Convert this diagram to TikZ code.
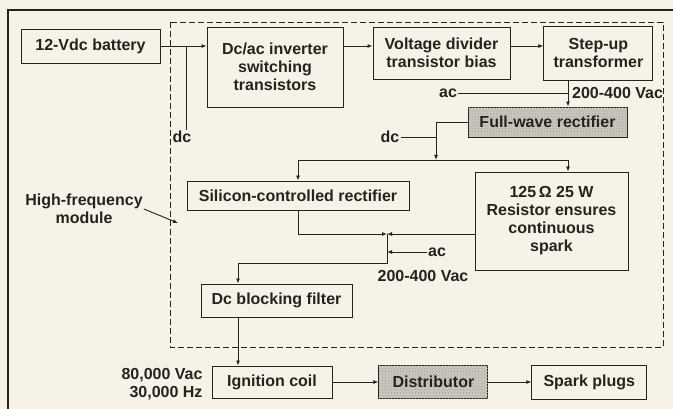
\documentclass[tikz,border=0pt]{standalone}
\usepackage{fontspec}
\setmainfont{Liberation Sans}
\usepackage{xcolor}
\usepackage{tikz}
\usetikzlibrary{patterns,positioning,arrows.meta,calc}
\definecolor{paper}{RGB}{247,242,231}
\definecolor{ink}{RGB}{38,34,30}
\definecolor{stipple}{RGB}{205,200,190}

\begin{document}
\begin{tikzpicture}[x=1pt,y=-1pt,node distance=40pt,
    every node/.style={font=\fontsize{16}{18}\selectfont\bfseries,text=ink},
    blockbox/.style={draw=ink,line width=0.9pt,inner sep=2pt,align=center},
    stipbox/.style={blockbox,fill=stipple,postaction={pattern=crosshatch dots,pattern color=ink!45}},
    wire/.style={draw=ink,line width=0.9pt},
    flow/.style={wire,-{Latex[length=5pt,width=4pt]}}]
    \fill[paper] (0,0) rectangle (673,409);
    \useasboundingbox (0,0) rectangle (673,409);
    % frames
    \draw[ink,line width=2pt] (8,409) -- (8,10) -- (673,10);
    \draw[ink,line width=0.7pt,dash pattern=on 6pt off 3pt] (170,22) rectangle (663,347);
    % blocks
    \node[blockbox,minimum width=139pt,minimum height=34pt] (battery) at (90.5,46) {12-Vdc battery};
    \node[blockbox,minimum width=136pt,minimum height=80pt] (inverter) at (275,67) {Dc/ac inverter\\switching\\transistors};
    \node[blockbox,minimum width=137pt,minimum height=52pt] (vdiv) at (441.5,53) {Voltage divider\\transistor bias};
    \node[blockbox,minimum width=109pt,minimum height=54pt,right=33pt of vdiv] (stepup) {Step-up\\transformer};
    \node[stipbox,minimum width=159pt,minimum height=30pt] (fullwave) at (547.5,122) {Full-wave rectifier};
    \node[blockbox,minimum width=222pt,minimum height=29pt] (scr) at (298,195.5) {Silicon-controlled rectifier};
    \node[blockbox,minimum width=153pt,minimum height=98pt] (resistor) at (551.5,221) {125\,Ω 25 W\\Resistor ensures\\continuous\\spark};
    \node[blockbox,minimum width=151pt,minimum height=33pt] (dcblock) at (276.5,300.5) {Dc blocking filter};
    \node[blockbox,minimum width=120pt,minimum height=32pt] (ignition) at (272,382) {Ignition coil};
    \node[stipbox,minimum width=109pt,minimum height=33pt,right=46pt of ignition] (distributor) {Distributor};
    \node[blockbox,minimum width=115pt,minimum height=34pt,right=43pt of distributor] (sparkplugs) {Spark plugs};
    % labels
    \node[inner sep=1pt] (dclabA) at (182,137) {dc};
    \node[inner sep=1pt] (aclabA) at (448,93) {ac};
    \node[inner sep=1pt,anchor=west] (vaclabA) at (571,93) {200-400 Vac};
    \node[inner sep=1pt] (dclabB) at (390,137) {dc};
    \node[inner sep=1pt] (aclabB) at (437,252) {ac};
    \node[inner sep=1pt] (vaclabB) at (423,276) {200-400 Vac};
    \node[inner sep=1pt,align=center] (hfmod) at (84,209) {High-frequency\\module};
    \node[inner sep=1pt,align=right] (hvlab) at (162,384) {80,000 Vac\\30,000 Hz};
    % junctions
    \coordinate (dcjoin) at (186,46);
    \coordinate (acjoin) at (568,93);
    \coordinate (busjoin) at (436,160);
    \coordinate (outjoin) at (387,234);
    \coordinate (acjoinB) at (387,252);
    \coordinate (filtin) at (238,263);
    \coordinate (hfarrow) at (178,223);
    % connectors
    \draw[flow] (battery.east) -- (inverter.west |- battery.east);
    \draw[wire] (dcjoin) -- (dcjoin |- dclabA.north);
    \draw[flow] (inverter.east |- battery.east) -- (vdiv.west |- battery.east);
    \draw[flow] (vdiv.east |- battery.east) -- (stepup.west |- battery.east);
    \draw[flow] (stepup.south -| acjoin) -- (fullwave.north -| acjoin);
    \draw[wire] (aclabA.east) -- (acjoin);
    \draw[flow] (fullwave.west) -| (busjoin);
    \draw[wire] (dclabB.east) -- (dclabB.east -| busjoin);
    \draw[flow] (busjoin) -| (scr.north);
    \draw[flow] (busjoin) -| (resistor.north -| acjoin);
    \draw[flow] (scr.south) |- (outjoin);
    \draw[flow] (resistor.west |- outjoin) -- (outjoin);
    \draw[flow] (aclabB.west) -- (acjoinB);
    \draw[flow] (outjoin) |- (filtin) -- (filtin |- dcblock.north);
    \draw[flow] (filtin |- dcblock.south) -- (filtin |- ignition.north);
    \draw[flow] (ignition) -- (distributor);
    \draw[flow] (distributor) -- (sparkplugs);
    \draw[flow] (hfmod.east) -- (hfarrow);
\end{tikzpicture}
\end{document}
